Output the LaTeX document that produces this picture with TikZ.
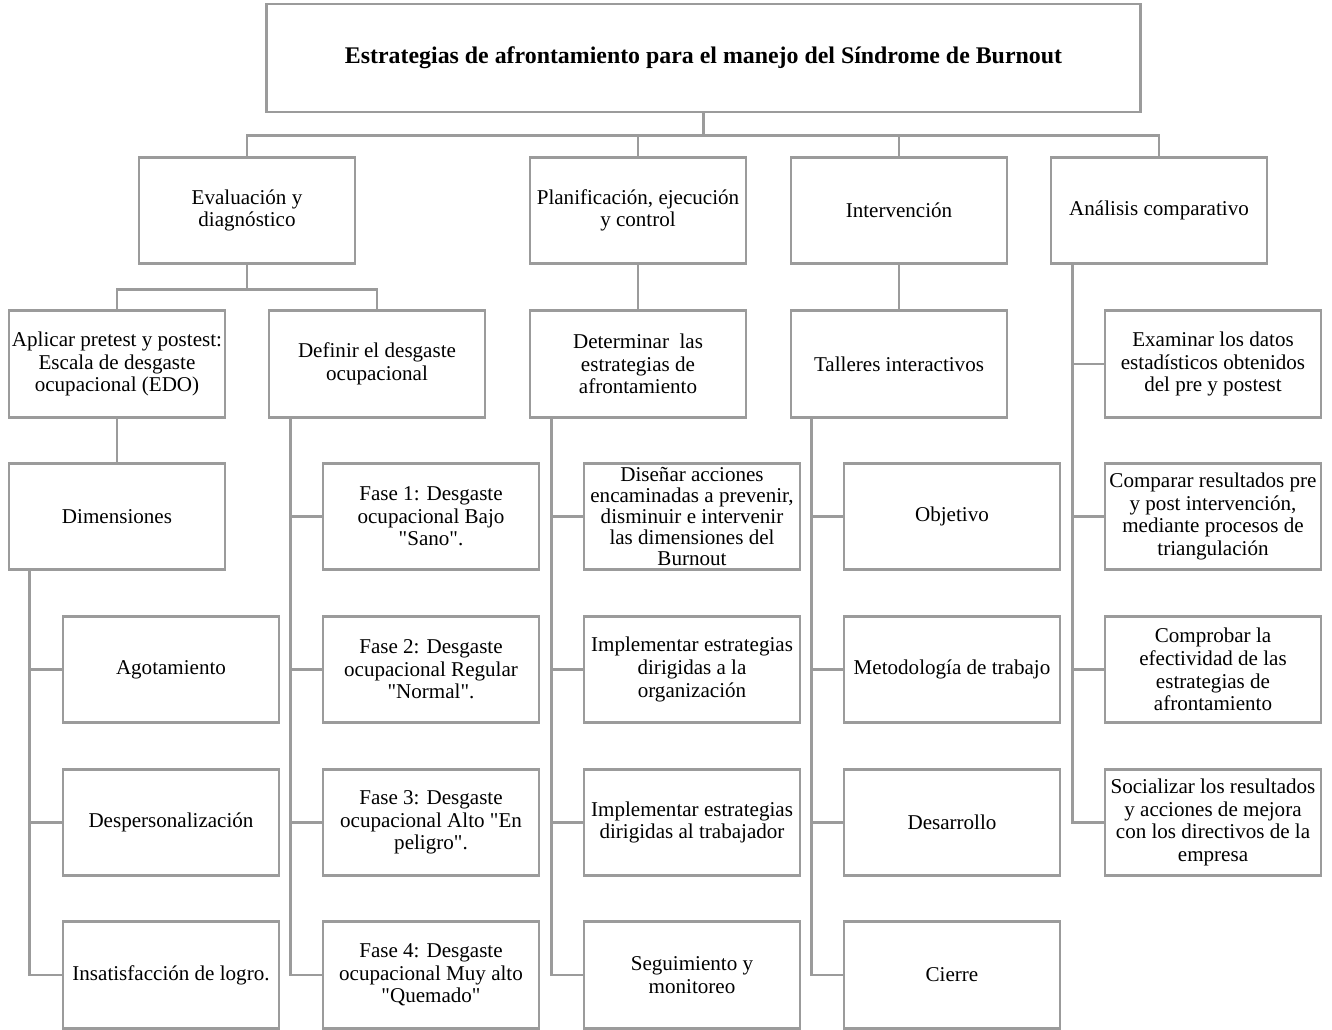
\documentclass[tikz,border=0pt]{standalone}
\usepackage{fontspec}
\setmainfont{Liberation Serif}[Ligatures=TeXOff]
\usetikzlibrary{calc}
\definecolor{linegray}{RGB}{155,155,155}

\begin{document}
\begin{tikzpicture}[
    x=0.75pt, y=-0.75pt,
    box/.style={draw=linegray, line width=2.2pt, fill=white, minimum width=162pt, minimum height=80pt, align=center, inner sep=0pt, font=\fontsize{15.8}{17}\selectfont},
    titlebox/.style={box, minimum width=655pt, minimum height=81pt, font=\fontsize{17.9}{19}\selectfont\bfseries},
    link/.style={draw=linegray, line width=2.2pt}
  ]
    \useasboundingbox (0,0) rectangle (1332,1030);

    % Title
    \node[titlebox] (title) at (703.5,58) {Estrategias de afrontamiento para el manejo del Síndrome de Burnout};

    % Second level
    \node[box] (eval) at (247,210.5) {Evaluación y\\diagnóstico};
    \node[box] (plan) at (638,210.5) {Planificación, ejecución\\y control};
    \node[box] (interv) at (899,210.5) {Intervención};
    \node[box] (anal) at (1159,210.5) {Análisis comparativo};

    % Third level
    \node[box] (aplic) at (117,364) {Aplicar pretest y postest:\\Escala de desgaste\\ocupacional (EDO)};
    \node[box] (defin) at (377,364) {Definir el desgaste\\ocupacional};
    \node[box] (determ) at (638,364) {Determinar\ \ las\\estrategias de\\afrontamiento};
    \node[box] (taller) at (899,364) {Talleres interactivos};
    \node[box] (anal1) at (1213,364) {Examinar los datos\\estadísticos obtenidos\\del pre y postest};
    \node[box] (dimen) at (117,516.5) {Dimensiones};

    % Dimensiones
    \foreach \n/\y/\txt in {dim1/669.5/{Agotamiento}, dim2/822.5/{Despersonalización}, dim3/975/{Insatisfacción de logro.}}
      \node[box] (\n) at (171,\y) {\txt};

    % Fases del desgaste
    \foreach \n/\y/\txt in {fase1/516.5/{Fase 1: Desgaste\\ocupacional Bajo\\"Sano".},
                            fase2/669.5/{Fase 2: Desgaste\\ocupacional Regular\\"Normal".},
                            fase3/822.5/{Fase 3: Desgaste\\ocupacional Alto "En\\peligro".},
                            fase4/975/{Fase 4: Desgaste\\ocupacional Muy alto\\"Quemado"}}
      \node[box] (\n) at (431,\y) {\txt};

    % Estrategias
    \node[box, font=\fontsize{15.8}{15.6}\selectfont] (estr1) at (692,516.5) {Diseñar acciones\\encaminadas a prevenir,\\disminuir e intervenir\\las dimensiones del\\Burnout};
    \foreach \n/\y/\txt in {estr2/669.5/{Implementar estrategias\\dirigidas a la\\organización},
                            estr3/822.5/{Implementar estrategias\\dirigidas al trabajador},
                            estr4/975/{Seguimiento y\\monitoreo}}
      \node[box] (\n) at (692,\y) {\txt};

    % Talleres
    \foreach \n/\y/\txt in {tal1/516.5/{Objetivo}, tal2/669.5/{Metodología de trabajo}, tal3/822.5/{Desarrollo}, tal4/975/{Cierre}}
      \node[box] (\n) at (952,\y) {\txt};

    % Analisis
    \foreach \n/\y/\txt in {anal2/516.5/{Comparar resultados pre\\y post intervención,\\mediante procesos de\\triangulación},
                            anal3/669.5/{Comprobar la\\efectividad de las\\estrategias de\\afrontamiento},
                            anal4/822.5/{Socializar los resultados\\y acciones de mejora\\con los directivos de la\\empresa}}
      \node[box] (\n) at (1213,\y) {\txt};

    % Connectors from the title
    \coordinate (bus1) at ($(title.south)+(0,22)$);
    \draw[link] (title.south) -- (bus1);
    \draw[link] (eval.north) |- (bus1) -| (anal.north);
    \draw[link] (plan.north) -- (plan.north |- bus1);
    \draw[link] (interv.north) -- (interv.north |- bus1);

    % Evaluacion branch
    \coordinate (bus2) at ($(eval.south)+(0,24)$);
    \draw[link] (eval.south) -- (bus2);
    \draw[link] (aplic.north) |- (bus2) -| (defin.north);
    \draw[link] (aplic) -- (dimen);
    \draw[link] (plan) -- (determ);
    \draw[link] (interv) -- (taller);

    % Side trees
    \foreach \c in {dim1,dim2,dim3}
      \draw[link] ($(dimen.south west)+(22,0)$) |- (\c.west);
    \foreach \c in {fase1,fase2,fase3,fase4}
      \draw[link] ($(defin.south west)+(23,0)$) |- (\c.west);
    \foreach \c in {estr1,estr2,estr3,estr4}
      \draw[link] ($(determ.south west)+(23,0)$) |- (\c.west);
    \foreach \c in {tal1,tal2,tal3,tal4}
      \draw[link] ($(taller.south west)+(22,0)$) |- (\c.west);
    \foreach \c in {anal1,anal2,anal3,anal4}
      \draw[link] ($(anal.south west)+(23,0)$) |- (\c.west);

  \end{tikzpicture}
\end{document}
